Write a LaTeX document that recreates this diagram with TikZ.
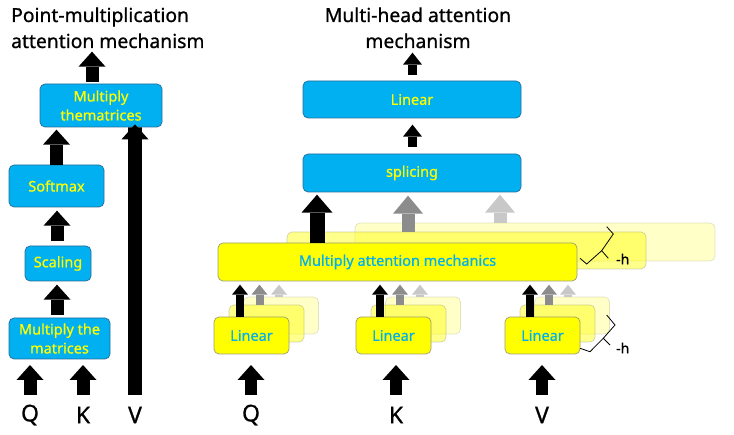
\documentclass[tikz,border=0pt]{standalone}
\usepackage{fontspec}
\setmainfont{Noto Sans}[FakeBold=0.8]
\usetikzlibrary{arrows.meta,calc}
\definecolor{boxblue}{HTML}{00B0F0}
\definecolor{blueedge}{HTML}{2A6D9C}
\definecolor{txtyel}{HTML}{FFFF00}
\definecolor{boxyel}{HTML}{FFFF00}
\definecolor{yeledge}{HTML}{9C9C7A}
\definecolor{txtcyan}{HTML}{00B0F0}
\definecolor{arrgrey}{HTML}{8C8C8C}
\definecolor{arrlight}{HTML}{C8C8C8}
\newcommand\boxfont{\fontsize{14.5}{19}\selectfont}
\newcommand\titlefont{\fontsize{19.3}{26}\selectfont}
\newcommand\qkvfont{\fontsize{23}{26}\selectfont}
\newcommand\hfnt{\fontsize{14}{15}\selectfont}
\begin{document}
\begin{tikzpicture}[x=1pt,y=-1pt,
  bluebox/.style={draw=blueedge, fill=boxblue, line width=0.7pt, rounded corners=5pt,
    text=txtyel, font=\boxfont, align=center, inner sep=0pt},
  yelbox/.style={draw=yeledge, fill=boxyel, line width=0.7pt, rounded corners=5pt,
    text=txtcyan, font=\boxfont, inner sep=0pt},
  yelmid/.style={yelbox, fill opacity=0.45, draw opacity=0.45},
  yelback/.style={yelbox, fill opacity=0.22, draw opacity=0.3},
  bigarr/.style={line width=13pt, -{Triangle[length=15pt,width=27pt,line width=0pt]}},
  midarr/.style={line width=15pt, -{Triangle[length=18pt,width=31pt,line width=0pt]}},
  smallarr/.style={line width=9pt, -{Triangle[length=12pt,width=19pt,line width=0pt]}},
  tinyarr/.style={line width=8pt, -{Triangle[length=10pt,width=16pt,line width=0pt]}},
  lbl/.style={font=\qkvfont, inner sep=0pt},
  ttl/.style={font=\titlefont, inner sep=0pt},
  bracepath/.style={line width=0.8pt, line join=miter}
]
\useasboundingbox (0,0) rectangle (734,435);

% ---------------- titles ----------------
\node[ttl, anchor=base west] (tl1) at (11,22) {Point-multiplication};
\node[ttl, anchor=base west] (tl2) at (11,48) {attention mechanism};
\node[ttl, anchor=base] (tr1) at (418,22) {Multi-head attention};
\node[ttl, anchor=base] (tr2) at (418,48) {mechanism};

% ---------------- left: point-multiplication ----------------
\node[bluebox, minimum width=122pt, minimum height=43pt] (mm) at (101,105.5) {Multiply\\thematrices};
\node[bluebox, minimum width=95pt, minimum height=42pt] (sm) at (56.5,186) {Softmax};
\node[bluebox, minimum width=66pt, minimum height=35pt] (sc) at (58,263.5) {Scaling};
\node[bluebox, minimum width=101pt, minimum height=41pt] (mt) at (59.5,338.5) {Multiply the\\matrices};

\node[lbl] (lq) at (30,415) {Q};
\node[lbl] (lk) at (83,415) {K};
\node[lbl] (lv) at (135,415) {V};

\draw[bigarr] ($(mm.north)+(-9,-2)$) -- ++(0,-30);
\draw[bigarr] (sm.north) -- ++(0,-35);
\draw[bigarr] ($(sc.north)+(-1,-5)$) -- ++(0,-30);
\draw[bigarr] ($(mt.north)+(-2.5,-3)$) -- ++(0,-30);
\draw[bigarr] (30,395) -- (30,365);
\draw[bigarr] (83,395) -- (83,365);
\draw[line width=14pt, -{Triangle[length=15pt,width=27pt,line width=0pt]}] (135,395) -- (lv.north |- mm.south) -- ++(0,-3);

% ---------------- right: multi-head ----------------
\node[bluebox, minimum width=218pt, minimum height=37pt] (lin) at (412,99.5) {Linear};
\node[bluebox, minimum width=218pt, minimum height=38pt] (spl) at (412,173) {splicing};

\draw[smallarr] ($(lin.north)+(0.5,-6)$) -- ++(0,-22);
\draw[smallarr] ($(spl.north)+(0.5,-7)$) -- ++(0,-22);

% multiply attention mechanics (three heads)
\node[yelback, minimum width=360pt, minimum height=38pt] (mam3) at (535,242) {};
\node[yelmid, minimum width=359pt, minimum height=37pt] (mam2) at (466.5,250.5) {};
\node[yelbox, minimum width=359pt, minimum height=38pt] (mam1) at (397.5,262) {Multiply attention mechanics};

\draw[midarr, black] (mam1.north -| 317,0) -- ++(0,-48);
\draw[midarr, arrgrey, line width=13pt, -{Triangle[length=18pt,width=30pt,line width=0pt]}] (mam2.north -| 408,0) -- ++(0,-36);
\draw[midarr, arrlight, line width=13pt, -{Triangle[length=18pt,width=30pt,line width=0pt]}] (mam3.north -| 500,0) -- ++(0,-28);

% linear heads
\foreach \nm/\cx in {Q/251.5, K/393.5, V/542.5}{
  \node[yelback, minimum width=75pt, minimum height=37pt] (b\nm) at (\cx+29.5,315.5) {};
  \node[yelmid, minimum width=75pt, minimum height=37pt] (m\nm) at (\cx+15,323.5) {};
  \node[yelbox, minimum width=75pt, minimum height=37pt] (f\nm) at (\cx,335.5) {Linear};
}
\foreach \nm/\ax/\bx/\cx in {Q/240/259.5/279, K/380/400/420, V/530/549/568}{
  \draw[tinyarr, black] (f\nm.north -| \ax,0) -- ++(0,-32);
  \draw[tinyarr, arrgrey] (m\nm.north -| \bx,0) -- ++(0,-20);
  \draw[tinyarr, arrlight] (b\nm.north -| \cx,0) -- ++(0,-12);
}

\node[lbl] (rq) at (251,415) {Q};
\node[lbl] (rk) at (396,415) {K};
\node[lbl] (rv) at (542,415) {V};
\draw[bigarr, line width=12pt] (251,395) -- (251,365);
\draw[bigarr, line width=12pt] (396,395) -- (396,365);
\draw[bigarr, line width=12pt] (542,395) -- (542,365);

% braces with -h
\draw[bracepath] (606.7,226.7) -- (613.3,234) -- (601.7,250.7) -- (608.3,258.3);
\draw[bracepath] (601.7,250.7) -- (586.7,264) -- (580,258.3);
\node[font=\hfnt, anchor=west, inner sep=0pt] (h1) at (616,259) {-h};
\draw[bracepath] (606.7,315) -- (615,325) -- (603.3,338.3) -- (610,345);
\draw[bracepath] (603.3,338.3) -- (590,351.7) -- (580,348.3);
\node[font=\hfnt, anchor=west, inner sep=0pt] (h2) at (616,348) {-h};
\end{tikzpicture}
\end{document}
